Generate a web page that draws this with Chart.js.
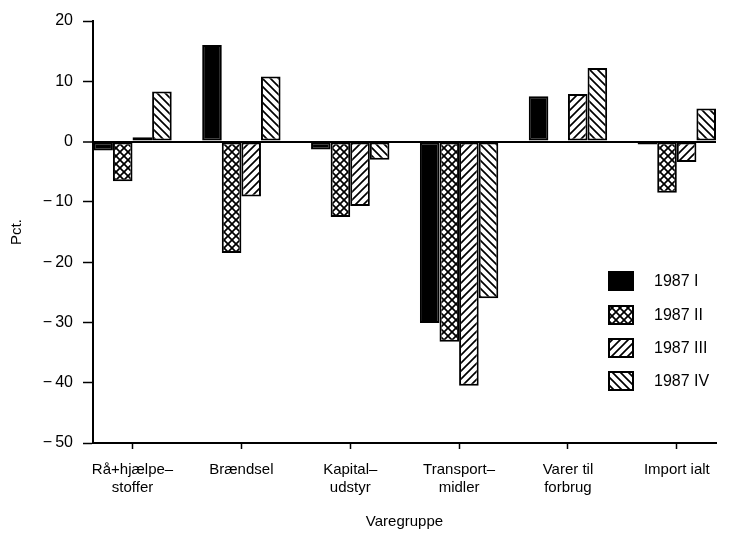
<!DOCTYPE html>
<html><head><meta charset="utf-8">
<script src="https://cdn.jsdelivr.net/npm/chart.js@4/dist/chart.umd.min.js"></script>
<style>html,body{margin:0;padding:0;background:#fff}#wrap{width:732px;height:533px;position:relative}</style>
</head><body><div id="wrap"><canvas id="c"></canvas></div>
<script>
const categories = [["Rå+hjælpe–","stoffer"],["Brændsel"],["Kapital–","udstyr"],["Transport–","midler"],["Varer til","forbrug"],["Import ialt"]];
const seriesNames = ["1987 I","1987 II","1987 III","1987 IV"];
const q1 = [-1.5, 16.0, -1.3, -30.1, 7.5, -0.5];
const q2 = [-6.6, -18.5, -12.5, -33.2, 0, -8.5];
const q3 = [0.7, -9.1, -10.7, -40.5, 7.9, -3.4];
const q4 = [8.3, 10.8, -3.0, -26.0, 12.2, 5.5];
const yMin = -50, yMax = 20, yStep = 10;
const xTitle = "Varegruppe";
const yTitle = "Pct.";

const FONT = "'Liberation Sans', Arial, sans-serif";

function makePattern(type) {
  const s = 8;
  const c = document.createElement('canvas');
  c.width = s; c.height = s;
  const x = c.getContext('2d');
  x.fillStyle = '#fff'; x.fillRect(0, 0, s, s);
  if (type === 'solid') { x.fillStyle = '#000'; x.fillRect(0, 0, s, s); return x.createPattern(c, 'repeat'); }
  x.strokeStyle = '#000'; x.lineWidth = 1.7; x.lineCap = 'square';
  const fwd = () => { x.beginPath();
    x.moveTo(0, s); x.lineTo(s, 0);
    x.moveTo(-s/2, s/2); x.lineTo(s/2, -s/2);
    x.moveTo(s/2, s*1.5); x.lineTo(s*1.5, s/2); x.stroke(); };
  const back = () => { x.beginPath();
    x.moveTo(0, 0); x.lineTo(s, s);
    x.moveTo(-s/2, s/2); x.lineTo(s/2, s*1.5);
    x.moveTo(s/2, -s/2); x.lineTo(s*1.5, s/2); x.stroke(); };
  if (type === 'fwd') fwd();
  if (type === 'back') back();
  if (type === 'cross') { fwd(); back(); }
  return x.createPattern(c, 'repeat');
}
const fills = [makePattern('solid'), makePattern('cross'), makePattern('fwd'), makePattern('back')];
const seriesValues = [q1, q2, q3, q4];

const datasets = seriesValues.map((vals, si) => ({
  label: seriesNames[si],
  data: vals.map((v, i) => ({x: i, y: v})),
  backgroundColor: fills[si],
  borderColor: '#000',
  borderWidth: 2,
  borderSkipped: false,
  categoryPercentage: 0.72,
  barPercentage: 1.0
}));

const legendPlugin = {
  id: 'boxLegend',
  afterDraw(chart) {
    const ctx = chart.ctx;
    const ys = [281, 315, 348, 381];
    ctx.save();
    chart.data.datasets.forEach((ds, i) => {
      const y = ys[i];
      ctx.fillStyle = ds.backgroundColor;
      ctx.fillRect(609, y - 9, 24, 18);
      ctx.lineWidth = 2; ctx.strokeStyle = '#000';
      ctx.strokeRect(609, y - 9, 24, 18);
      ctx.fillStyle = '#000';
      ctx.font = "16px " + FONT;
      ctx.textAlign = 'left'; ctx.textBaseline = 'middle';
      ctx.fillText(ds.label, 654, y + 1);
    });
    ctx.restore();
  }
};

new Chart(document.getElementById('c'), {
  type: 'bar',
  data: { datasets },
  plugins: [legendPlugin],
  options: {
    responsive: true,
    maintainAspectRatio: false,
    animation: false,
    layout: { padding: { top: 21, right: 16, bottom: 0, left: 0 } },
    plugins: { legend: { display: false }, tooltip: { enabled: false } },
    scales: {
      x: {
        type: 'linear',
        min: -0.363,
        max: 5.36,
        offset: false,
        afterBuildTicks: (axis) => { axis.ticks = categories.map((c, i) => ({ value: i })); },
        afterFit: (s) => { s.height = 90; },
        border: { display: true, color: '#000', width: 2 },
        grid: { offset: false, drawOnChartArea: false, drawTicks: true, tickLength: 6, color: '#000', tickWidth: 1.5 },
        ticks: {
          autoSkip: false, maxRotation: 0, padding: 12,
          color: '#000', font: { family: FONT, size: 15 },
          callback: (v) => categories[Math.round(v)]
        },
        title: { display: true, text: xTitle, color: '#000', font: { family: FONT, size: 15 }, padding: { top: 0, bottom: 2 } }
      },
      y: {
        min: yMin, max: yMax,
        afterFit: (s) => { s.width = 93; },
        border: { display: true, color: '#000', width: 2 },
        grid: {
          drawTicks: true, tickLength: 10,
          color: (c) => (c.tick && c.tick.value === 0) ? '#000' : 'rgba(0,0,0,0)',
          lineWidth: (c) => (c.tick && c.tick.value === 0) ? 2 : 1,
          tickColor: '#000', tickWidth: 1.5
        },
        ticks: {
          stepSize: yStep, padding: 10, color: '#000', font: { family: FONT, size: 16 },
          callback: (v) => v < 0 ? '\u2212\u2009' + Math.abs(v) : String(v)
        },
        title: { display: true, text: yTitle, color: '#000', font: { family: FONT, size: 15 }, padding: { top: 8, bottom: 0 } }
      }
    }
  }
});
</script>
</body></html>
